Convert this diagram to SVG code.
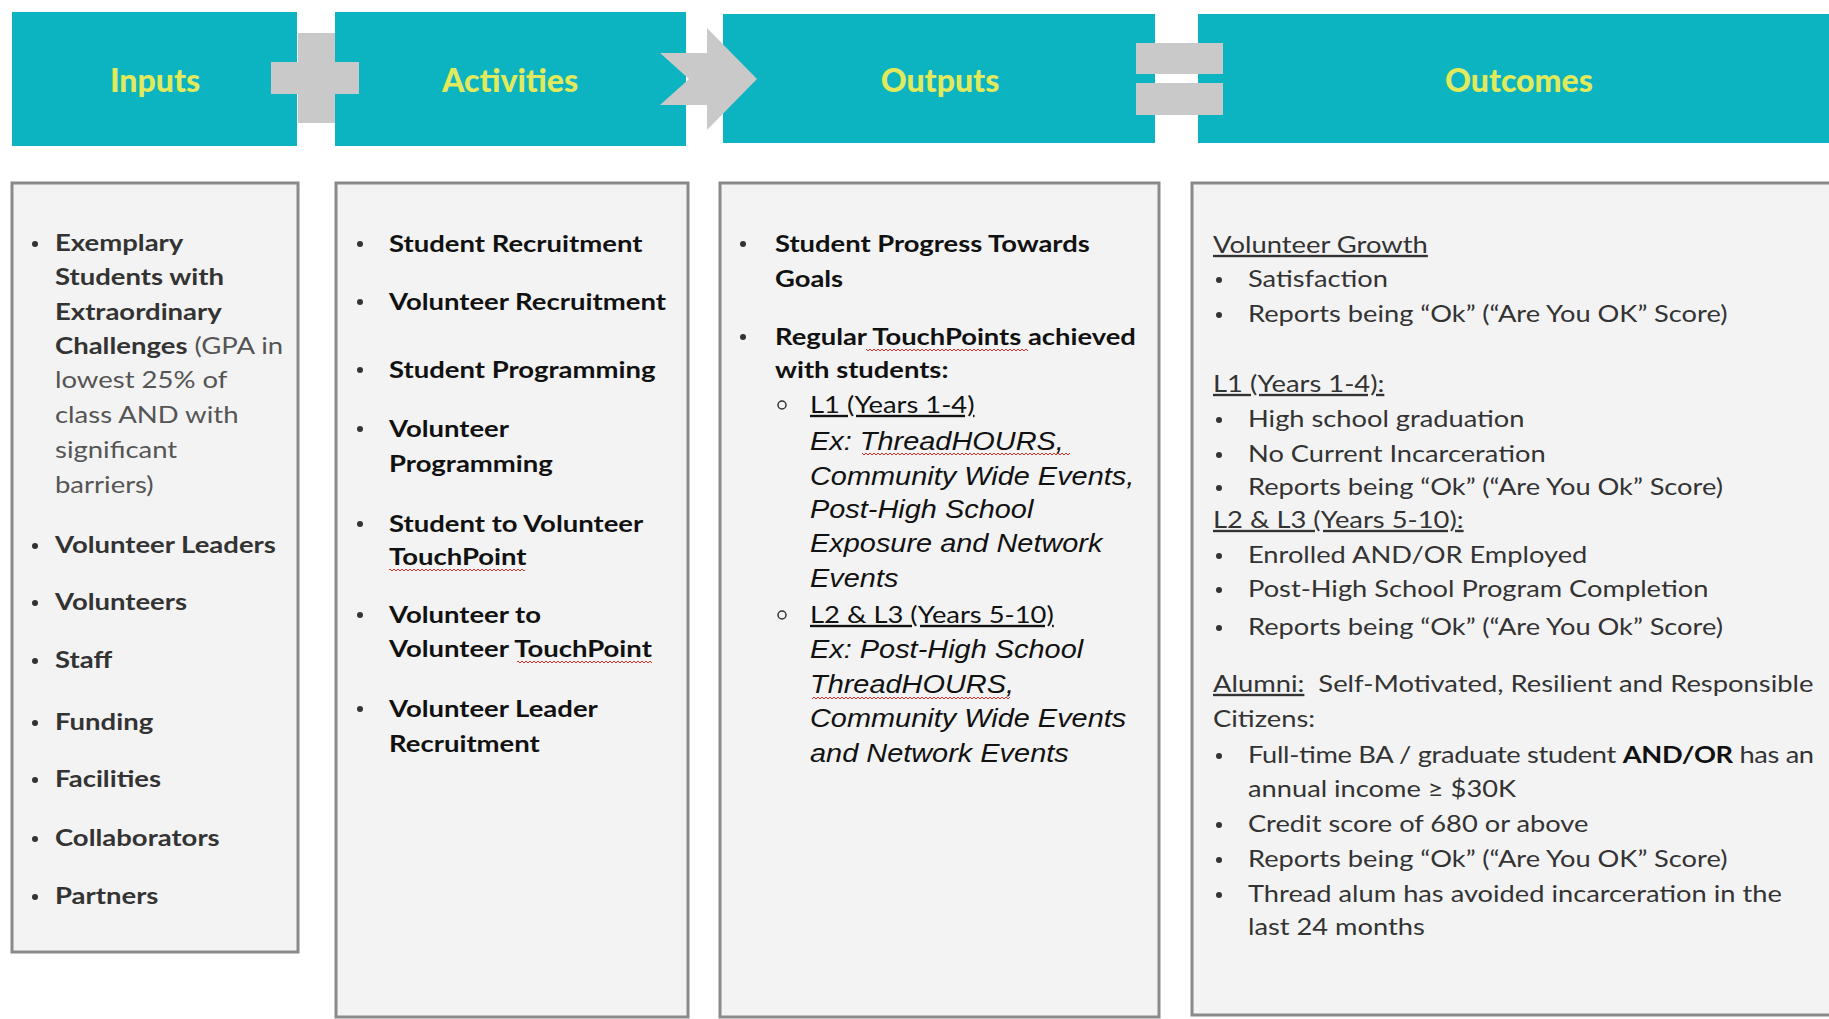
<svg xmlns="http://www.w3.org/2000/svg" width="1829" height="1019" viewBox="0 0 1829 1019">
  <defs>
    <style>
      .hdr { fill: #0cb3c0; }
      .sym { fill: #c9c9c9; }
      .panel { fill: #f3f3f3; stroke: #8a8a8a; stroke-width: 3; }
      .title { font-family: Lato, "Open Sans", sans-serif; font-weight: 900; font-size: 32px; fill: #e0ea5c; text-anchor: middle; }
      .body { font-family: Lato, "Liberation Sans", sans-serif; font-size: 23.5px; fill: #333; }
      .dark { fill: #111; }
      .b { font-weight: 700; }
      .it { font-family: "Liberation Sans", Arial, sans-serif; font-style: italic; font-size: 25.6px; fill: #111; }
      .u { text-decoration: underline; }
      .dot { fill: #333; }
      .ring { fill: none; stroke: #333; stroke-width: 1.5; }
      .wave { fill: url(#squiggle); }
    </style>
    <pattern id="squiggle" patternUnits="userSpaceOnUse" width="4" height="4">
      <path d="M0 3 L2 1 L4 3" fill="none" stroke="#e0302a" stroke-width="1"/>
    </pattern>
  </defs>

  <rect width="1829" height="1019" fill="#ffffff"/>

  <!-- header band -->
  <g id="hdr-inputs">
    <rect class="hdr" x="12" y="12" width="285" height="134"/>
    <text class="title" x="155" y="92">Inputs</text>
  </g>
  <g id="hdr-activities">
    <rect class="hdr" x="335" y="12" width="351" height="134"/>
    <text class="title" x="510" y="92">Activities</text>
  </g>
  <g id="hdr-outputs">
    <rect class="hdr" x="723" y="14" width="432" height="129"/>
    <text class="title" x="940" y="92">Outputs</text>
  </g>
  <g id="hdr-outcomes">
    <rect class="hdr" x="1198" y="14" width="640" height="129"/>
    <text class="title" x="1519" y="92">Outcomes</text>
  </g>

  <!-- operators between the headers -->
  <g id="connectors">
    <g id="op-plus">
      <rect class="sym" x="298" y="33" width="37" height="90"/>
      <rect class="sym" x="271" y="62" width="88" height="32"/>
    </g>
    <polygon id="op-arrow" class="sym" points="660,53 707,53 707,28 757,79 707,130 707,105 660,105 689,79"/>
    <g id="op-equals">
      <rect class="sym" x="1136" y="43" width="87" height="31"/>
      <rect class="sym" x="1136" y="83" width="87" height="32"/>
    </g>
  </g>

  <!-- Inputs panel -->
  <g id="panel-inputs">
    <rect class="panel" x="12" y="183" width="286" height="769"/>
    <g class="dot">
      <circle cx="35" cy="244" r="3"/>
      <circle cx="35" cy="546" r="3"/>
      <circle cx="35" cy="603" r="3"/>
      <circle cx="35" cy="661" r="3"/>
      <circle cx="35" cy="723" r="3"/>
      <circle cx="35" cy="780" r="3"/>
      <circle cx="35" cy="839" r="3"/>
      <circle cx="35" cy="897" r="3"/>
    </g>
    <g class="body" transform="translate(55 0) scale(1.17 1) translate(-55 0)">
      <text class="b" x="55" y="251">Exemplary</text>
      <text class="b" x="55" y="285">Students with</text>
      <text class="b" x="55" y="320">Extraordinary</text>
      <text x="55" y="354"><tspan class="b">Challenges</tspan><tspan fill="#555"> (GPA in</tspan></text>
      <text x="55" y="388" fill="#555">lowest 25% of</text>
      <text x="55" y="423" fill="#555">class AND with</text>
      <text x="55" y="458" fill="#555">significant</text>
      <text x="55" y="493" fill="#555">barriers)</text>
      <text class="b" x="55" y="553">Volunteer Leaders</text>
      <text class="b" x="55" y="610">Volunteers</text>
      <text class="b" x="55" y="668">Staff</text>
      <text class="b" x="55" y="730">Funding</text>
      <text class="b" x="55" y="787">Facilities</text>
      <text class="b" x="55" y="846">Collaborators</text>
      <text class="b" x="55" y="904">Partners</text>
    </g>
  </g>

  <!-- Activities panel -->
  <g id="panel-activities">
    <rect class="panel" x="336" y="183" width="352" height="834"/>
    <g class="dot">
      <circle cx="360" cy="244" r="3"/>
      <circle cx="360" cy="302" r="3"/>
      <circle cx="360" cy="370" r="3"/>
      <circle cx="360" cy="429" r="3"/>
      <circle cx="360" cy="524" r="3"/>
      <circle cx="360" cy="615" r="3"/>
      <circle cx="360" cy="709" r="3"/>
    </g>
    <rect class="wave" x="389" y="569" width="136" height="4"/>
    <rect class="wave" x="517" y="661" width="135" height="4"/>
    <g class="body dark b" transform="translate(389 0) scale(1.17 1) translate(-389 0)">
      <text class="dark b" x="389" y="252">Student Recruitment</text>
      <text class="dark b" x="389" y="310">Volunteer Recruitment</text>
      <text class="dark b" x="389" y="378">Student Programming</text>
      <text class="dark b" x="389" y="437">Volunteer</text>
      <text class="dark b" x="389" y="472">Programming</text>
      <text class="dark b" x="389" y="532">Student to Volunteer</text>
      <text class="dark b" x="389" y="565">TouchPoint</text>
      <text class="dark b" x="389" y="623">Volunteer to</text>
      <text class="dark b" x="389" y="657">Volunteer TouchPoint</text>
      <text class="dark b" x="389" y="717">Volunteer Leader</text>
      <text class="dark b" x="389" y="752">Recruitment</text>
    </g>
  </g>

  <!-- Outputs panel -->
  <g id="panel-outputs">
    <rect class="panel" x="720" y="183" width="439" height="834"/>
    <g class="dot">
      <circle cx="743" cy="244" r="3"/>
      <circle cx="743" cy="337" r="3"/>
    </g>
    <circle class="ring" cx="782" cy="405" r="4"/>
    <circle class="ring" cx="782" cy="615" r="4"/>
    <rect class="wave" x="866" y="348" width="162" height="4"/>
    <rect class="wave" x="862" y="453" width="208" height="4"/>
    <rect class="wave" x="812" y="695" width="198" height="4"/>
    <g class="body" transform="translate(775 0) scale(1.165 1) translate(-775 0)">
      <text class="dark b" x="775" y="252">Student Progress Towards</text>
      <text class="dark b" x="775" y="287">Goals</text>
      <text class="dark b" x="775" y="345">Regular TouchPoints achieved</text>
      <text class="dark b" x="775" y="378">with students:</text>
    </g>
    <g class="body" transform="translate(810 0) scale(1.165 1) translate(-810 0)">
      <text class="dark u" x="810" y="413">L1 (Years 1-4)</text>
      <text class="dark u" x="810" y="623">L2 &amp; L3 (Years 5-10)</text>
    </g>
    <g class="it" transform="translate(810 0) scale(1.13 1) translate(-810 0)">
      <text x="810" y="450">Ex: ThreadHOURS,</text>
      <text x="810" y="485">Community Wide Events,</text>
      <text x="810" y="518">Post-High School</text>
      <text x="810" y="552">Exposure and Network</text>
      <text x="810" y="587">Events</text>
      <text x="810" y="658">Ex: Post-High School</text>
      <text x="810" y="693">ThreadHOURS,</text>
      <text x="810" y="727">Community Wide Events</text>
      <text x="810" y="762">and Network Events</text>
    </g>
  </g>

  <!-- Outcomes panel -->
  <g id="panel-outcomes">
    <rect class="panel" x="1192" y="183" width="660" height="832"/>
    <g class="dot">
      <circle cx="1219" cy="280" r="3"/>
      <circle cx="1219" cy="315" r="3"/>
      <circle cx="1219" cy="420" r="3"/>
      <circle cx="1219" cy="455" r="3"/>
      <circle cx="1219" cy="488" r="3"/>
      <circle cx="1219" cy="556" r="3"/>
      <circle cx="1219" cy="590" r="3"/>
      <circle cx="1219" cy="628" r="3"/>
      <circle cx="1219" cy="756" r="3"/>
      <circle cx="1219" cy="825" r="3"/>
      <circle cx="1219" cy="860" r="3"/>
      <circle cx="1219" cy="895" r="3"/>
    </g>
    <g class="body" transform="translate(1213 0) scale(1.165 1) translate(-1213 0)">
      <text class="u" x="1213" y="253">Volunteer Growth</text>
      <text class="u" x="1213" y="392">L1 (Years 1-4):</text>
      <text class="u" x="1213" y="528">L2 &amp; L3 (Years 5-10):</text>
      <text x="1213" y="692"><tspan class="u">Alumni:</tspan><tspan dx="6"> Self-Motivated, Resilient and Responsible</tspan></text>
      <text x="1213" y="727">Citizens:</text>
    </g>
    <g class="body" transform="translate(1248 0) scale(1.16 1) translate(-1248 0)">
      <text x="1248" y="287">Satisfaction</text>
      <text x="1248" y="322">Reports being “Ok” (“Are You OK” Score)</text>
      <text x="1248" y="427">High school graduation</text>
      <text x="1248" y="462">No Current Incarceration</text>
      <text x="1248" y="495">Reports being “Ok” (“Are You Ok” Score)</text>
      <text x="1248" y="563">Enrolled AND/OR Employed</text>
      <text x="1248" y="597">Post-High School Program Completion</text>
      <text x="1248" y="635">Reports being “Ok” (“Are You Ok” Score)</text>
      <text x="1248" y="763" textLength="488" lengthAdjust="spacing">Full-time BA / graduate student <tspan class="b" fill="#111">AND/OR</tspan> has an</text>
      <text x="1248" y="797">annual income ≥ $30K</text>
      <text x="1248" y="832">Credit score of 680 or above</text>
      <text x="1248" y="867">Reports being “Ok” (“Are You OK” Score)</text>
      <text x="1248" y="902">Thread alum has avoided incarceration in the</text>
      <text x="1248" y="935">last 24 months</text>
    </g>
  </g>
</svg>
